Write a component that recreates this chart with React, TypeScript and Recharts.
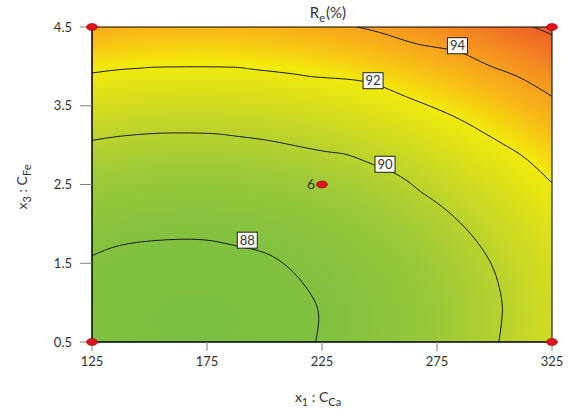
import React from 'react';
import { ComposedChart, XAxis, YAxis, Line, Scatter, ReferenceArea, Label } from 'recharts';

// Axis ticks
const X1_TICKS = [125, 175, 225, 275, 325];
const X3_TICKS = [0.5, 1.5, 2.5, 3.5, 4.5];

// Contour lines of Re (%) over x1 (C_Ca) and x3 (C_Fe)
const contour88 = [
  { x1: 125, x3: 1.596 }, { x1: 136.7, x3: 1.723 }, { x1: 153.3, x3: 1.79 }, { x1: 172.9, x3: 1.799 },
  { x1: 187.4, x3: 1.723 }, { x1: 200.4, x3: 1.63 }, { x1: 210.6, x3: 1.44 }, { x1: 217.8, x3: 1.206 },
  { x1: 222.2, x3: 0.995 }, { x1: 223.6, x3: 0.783 }, { x1: 222.2, x3: 0.5 },
];
const contour90 = [
  { x1: 125, x3: 3.06 }, { x1: 136.7, x3: 3.111 }, { x1: 148.3, x3: 3.141 }, { x1: 159.1, x3: 3.154 },
  { x1: 175.8, x3: 3.149 }, { x1: 186.0, x3: 3.12 }, { x1: 197.5, x3: 3.078 }, { x1: 209.1, x3: 3.018 },
  { x1: 226.5, x3: 2.92 }, { x1: 236.0, x3: 2.878 }, { x1: 247.5, x3: 2.751 }, { x1: 259.1, x3: 2.603 },
  { x1: 267.8, x3: 2.412 }, { x1: 275.1, x3: 2.265 }, { x1: 285.2, x3: 2.011 }, { x1: 293.9, x3: 1.714 },
  { x1: 299.7, x3: 1.418 }, { x1: 302.6, x3: 1.122 }, { x1: 303.4, x3: 0.868 }, { x1: 301.9, x3: 0.5 },
];
const contour92 = [
  { x1: 125, x3: 3.916 }, { x1: 136.7, x3: 3.958 }, { x1: 146.8, x3: 3.979 }, { x1: 156.2, x3: 3.992 },
  { x1: 183.0, x3: 3.992 }, { x1: 193.9, x3: 3.967 }, { x1: 203.3, x3: 3.936 }, { x1: 214.9, x3: 3.894 },
  { x1: 224.3, x3: 3.86 }, { x1: 243.2, x3: 3.809 }, { x1: 257.7, x3: 3.662 }, { x1: 272.2, x3: 3.492 },
  { x1: 285.2, x3: 3.323 }, { x1: 296.8, x3: 3.132 }, { x1: 305.5, x3: 2.984 }, { x1: 314.2, x3: 2.815 },
  { x1: 325, x3: 2.519 },
];
const contour94 = [
  { x1: 240.3, x3: 4.5 }, { x1: 253.4, x3: 4.402 }, { x1: 267.8, x3: 4.275 }, { x1: 283.8, x3: 4.19 },
  { x1: 296.8, x3: 4.021 }, { x1: 309.9, x3: 3.873 }, { x1: 325, x3: 3.619 },
];
const contour96 = [
  { x1: 317.1, x3: 4.5 }, { x1: 325, x3: 4.402 },
];
const CONTOURS = [contour88, contour90, contour92, contour94, contour96];

// Contour level labels
const contourLabels = [
  { x1: 192.5, x3: 1.793, level: 88 },
  { x1: 252.4, x3: 2.757, level: 90 },
  { x1: 247.2, x3: 3.818, level: 92 },
  { x1: 283.9, x3: 4.262, level: 94 },
];

// Design points: factorial corners and the replicated centre point
const cornerPoints = [
  { x1: 125, x3: 0.5 }, { x1: 125, x3: 4.5 }, { x1: 325, x3: 0.5 }, { x1: 325, x3: 4.5 },
];
const centerPoint = [{ x1: 225, x3: 2.5, runs: 6 }];

// Colour surface: elliptical gradient around the response minimum
const X1_DOMAIN = [125, 325];
const X3_DOMAIN = [0.5, 4.5];
const SURFACE_MIN_X1 = 170;
const SURFACE_MIN_X3 = 0.78;
const SURFACE_REACH_X1 = 263;
const SURFACE_REACH_X3 = 4.67;
const SURFACE_MIN = 87.57;
const SURFACE_EDGE = 96.57;
const COLOR_LEVELS: [number, string][] = [
  [87.57, '#7BBF41'], [88, '#80C13F'], [89, '#99C83A'], [90, '#BBD32C'], [91, '#DADF1B'],
  [92, '#F2EA0B'], [93, '#F8BE16'], [94, '#F7A01C'], [95, '#F38222'], [96, '#EF6425'], [96.57, '#EE5826'],
];

const FONT = 'Lato, "Open Sans", sans-serif';
const TEXT = '#333';

const gcx = (SURFACE_MIN_X1 - X1_DOMAIN[0]) / (X1_DOMAIN[1] - X1_DOMAIN[0]);
const gcy = (X3_DOMAIN[1] - SURFACE_MIN_X3) / (X3_DOMAIN[1] - X3_DOMAIN[0]);
const grx = SURFACE_REACH_X1 / (X1_DOMAIN[1] - X1_DOMAIN[0]);
const gry = SURFACE_REACH_X3 / (X3_DOMAIN[1] - X3_DOMAIN[0]);

const XTitle = (props: any) => {
  const vb = props.viewBox;
  const cx = vb.x + vb.width / 2 - 4;
  const y = vb.y + 60;
  return (
    <text x={cx} y={y} textAnchor="middle" fill={TEXT} fontSize={14} fontFamily={FONT}>
      x<tspan dy={4} fontSize={11}>1</tspan>
      <tspan dy={-4}> : C</tspan>
      <tspan dy={4} fontSize={11}>Ca</tspan>
    </text>
  );
};

const YTitle = () => {
  const x = 27;
  const y = 187;
  return (
    <text x={x} y={y} transform={`rotate(-90, ${x}, ${y})`} textAnchor="middle" fill={TEXT} fontSize={14} fontFamily={FONT}>
      x<tspan dy={4} fontSize={11}>3</tspan>
      <tspan dy={-4}> : C</tspan>
      <tspan dy={4} fontSize={11}>Fe</tspan>
    </text>
  );
};

const PlotTitle = (props: any) => {
  const vb = props.viewBox;
  const cx = vb.x + vb.width / 2 + 6;
  return (
    <text x={cx} y={vb.y - 9} textAnchor="middle" fill={TEXT} fontSize={15} fontFamily={FONT}>
      R<tspan dy={4} fontSize={11}>e</tspan>
      <tspan dy={-4} dx={1}>(%)</tspan>
    </text>
  );
};

const LevelTag = (props: any) => {
  const { cx, cy, payload } = props;
  return (
    <g>
      <rect x={cx - 10} y={cy - 8} width={20} height={16} fill="#fff" stroke="#222" strokeWidth={1} />
      <text x={cx} y={cy + 4.5} textAnchor="middle" fontSize={13} fill={TEXT} fontFamily={FONT}>
        {payload.level}
      </text>
    </g>
  );
};

const DesignDot = (props: any) => {
  const { cx, cy } = props;
  return <ellipse cx={cx} cy={cy} rx={5.5} ry={3.5} fill="#E3111B" stroke="#8a0000" strokeWidth={0.6} />;
};

const CenterDot = (props: any) => {
  const { cx, cy, payload } = props;
  return (
    <g>
      <text x={cx - 11} y={cy + 4} textAnchor="middle" fontSize={14} fill={TEXT} fontFamily={FONT}>
        {payload.runs}
      </text>
      <ellipse cx={cx} cy={cy} rx={5.5} ry={3.5} fill="#E3111B" stroke="#8a0000" strokeWidth={0.6} />
    </g>
  );
};

export default function App() {
  return (
    <div style={{ position: 'absolute', left: 0, top: 0, width: 570, height: 414, background: '#fff' }}>
      <ComposedChart width={570} height={414} margin={{ top: 27, right: 18, bottom: 32, left: 0 }}>
        <defs>
          <radialGradient
            id="reSurface"
            cx={gcx}
            cy={gcy}
            r={grx}
            gradientTransform={`translate(0 ${gcy}) scale(1 ${gry / grx}) translate(0 ${-gcy})`}
          >
            {COLOR_LEVELS.map(([v, c]) => (
              <stop key={v} offset={Math.sqrt((v - SURFACE_MIN) / (SURFACE_EDGE - SURFACE_MIN))} stopColor={c} />
            ))}
          </radialGradient>
        </defs>
        <XAxis
          type="number"
          dataKey="x1"
          domain={X1_DOMAIN}
          ticks={X1_TICKS}
          interval={0}
          height={40}
          tickSize={9}
          tickMargin={6}
          axisLine={{ stroke: '#000' }}
          tickLine={{ stroke: '#808080' }}
          tick={{ fill: TEXT, fontSize: 13, fontFamily: FONT }}
        >
          <Label content={XTitle} />
        </XAxis>
        <YAxis
          type="number"
          dataKey="x3"
          domain={X3_DOMAIN}
          ticks={X3_TICKS}
          interval={0}
          width={92}
          tickSize={12}
          tickMargin={8}
          tickFormatter={(v: number) => v.toFixed(1)}
          axisLine={{ stroke: '#000' }}
          tickLine={{ stroke: '#808080' }}
          tick={{ fill: TEXT, fontSize: 13, fontFamily: FONT }}
        >
          <Label content={YTitle} />
        </YAxis>
        <ReferenceArea
          x1={X1_DOMAIN[0]}
          x2={X1_DOMAIN[1]}
          y1={X3_DOMAIN[0]}
          y2={X3_DOMAIN[1]}
          fill="url(#reSurface)"
          fillOpacity={1}
          stroke="#000"
          strokeWidth={1}
          label={<PlotTitle />}
        />
        {CONTOURS.map((c, i) => (
          <Line
            key={i}
            data={c}
            dataKey="x3"
            type="natural"
            stroke="#1a1a1a"
            strokeWidth={1}
            dot={false}
            activeDot={false}
            isAnimationActive={false}
          />
        ))}
        <Scatter data={contourLabels} dataKey="x3" shape={LevelTag} isAnimationActive={false} />
        <Scatter data={cornerPoints} dataKey="x3" shape={DesignDot} isAnimationActive={false} />
        <Scatter data={centerPoint} dataKey="x3" shape={CenterDot} isAnimationActive={false} />
      </ComposedChart>
    </div>
  );
}
